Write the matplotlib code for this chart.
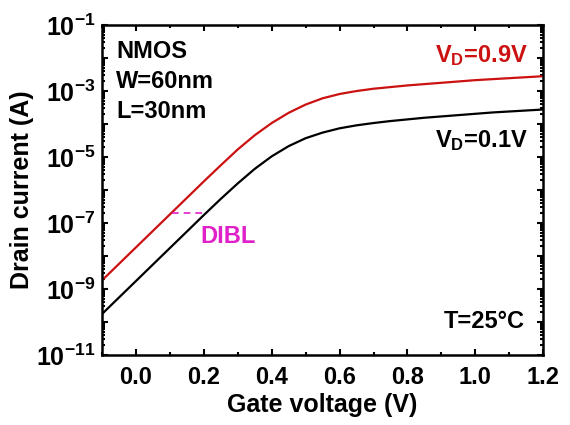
import numpy as np
import matplotlib
matplotlib.use('Agg')
import matplotlib.pyplot as plt
from matplotlib.ticker import LogLocator, FuncFormatter, MultipleLocator, NullFormatter

plt.rcParams['font.family'] = ['Liberation Sans', 'DejaVu Sans']
plt.rcParams['font.weight'] = 'bold'
plt.rcParams['mathtext.fontset'] = 'custom'
plt.rcParams['mathtext.rm'] = 'Liberation Sans:bold'
plt.rcParams['mathtext.bf'] = 'Liberation Sans:bold'
plt.rcParams['mathtext.it'] = 'Liberation Sans:bold'
plt.rcParams['axes.unicode_minus'] = False

# gate voltage (V)
vg = [-0.10, -0.05, 0.00, 0.05, 0.10, 0.15, 0.20, 0.25, 0.30, 0.35, 0.40,
      0.45, 0.50, 0.55, 0.60, 0.65, 0.70, 0.75, 0.80, 0.85, 0.90, 0.95,
      1.00, 1.05, 1.10, 1.15, 1.20]
# log10 of drain current
log_id_09 = [-8.74, -8.24, -7.74, -7.24, -6.74, -6.24, -5.74, -5.25, -4.77, -4.34, -3.97,
             -3.66, -3.41, -3.22, -3.09, -3.00, -2.93, -2.88, -2.83, -2.79, -2.75, -2.71,
             -2.67, -2.64, -2.61, -2.58, -2.55]
log_id_01 = [-9.76, -9.26, -8.76, -8.26, -7.76, -7.26, -6.76, -6.27, -5.80, -5.36, -4.98,
             -4.67, -4.43, -4.26, -4.13, -4.04, -3.97, -3.91, -3.86, -3.81, -3.77, -3.73,
             -3.69, -3.65, -3.62, -3.59, -3.56]

# DIBL marker: shift at constant current
dibl_v = [0.107, 0.204]
dibl_i = 2.0e-7

id_09 = np.power(10.0, log_id_09)
id_01 = np.power(10.0, log_id_01)

fig = plt.figure(figsize=(5.7, 4.25), dpi=100)
ax = fig.add_axes([0.179, 0.165, 0.774, 0.776])

ax.semilogy(vg, id_09, color='#cc1111', lw=1.6)
ax.semilogy(vg, id_01, color='black', lw=1.6)
ax.plot(dibl_v, [dibl_i, dibl_i], color='#e020c8', lw=1.2, ls=(0, (4, 3)))

ax.set_xlim(-0.1, 1.2)
ax.set_ylim(1e-11, 1e-1)

ax.xaxis.set_major_locator(MultipleLocator(0.2))
ax.xaxis.set_minor_locator(MultipleLocator(0.1))
ax.xaxis.set_major_formatter(FuncFormatter(lambda v, p: f'{v:.1f}' if abs(v) > 1e-9 else '0.0'))

ax.yaxis.set_major_locator(LogLocator(base=10, numticks=20))
ax.yaxis.set_minor_locator(LogLocator(base=10, subs=np.arange(2, 10), numticks=20))
ax.yaxis.set_minor_formatter(NullFormatter())


def ylab(v, p):
    e = int(round(np.log10(v)))
    if e % 2 == 0:
        return ''
    return r'$\mathbf{10^{%d}}$' % e


ax.yaxis.set_major_formatter(FuncFormatter(ylab))

ax.tick_params(which='both', direction='in', top=True, right=True, width=1.5)
ax.tick_params(which='major', length=4.5)
ax.tick_params(axis='x', which='major', pad=8, labelsize=17)
ax.tick_params(axis='y', which='major', pad=5, labelsize=18)
ax.tick_params(which='minor', length=2.5)
for s in ax.spines.values():
    s.set_linewidth(1.8)

ax.set_xlabel('Gate voltage (V)', fontsize=18, fontweight='bold', labelpad=3)
ax.set_ylabel('Drain current (A)', fontsize=18, fontweight='bold', labelpad=1)

ax.text(0.032, 0.900, 'NMOS', transform=ax.transAxes, fontsize=17, fontweight='bold', va='baseline')
ax.text(0.032, 0.809, 'W=60nm', transform=ax.transAxes, fontsize=17, fontweight='bold', va='baseline')
ax.text(0.032, 0.718, 'L=30nm', transform=ax.transAxes, fontsize=17, fontweight='bold', va='baseline')
ax.text(0.966, 0.888, r'V$_\mathbf{D}$=0.9V', transform=ax.transAxes, fontsize=17,
        fontweight='bold', color='#cc1111', ha='right', va='baseline')
ax.text(0.966, 0.630, r'V$_\mathbf{D}$=0.1V', transform=ax.transAxes, fontsize=17,
        fontweight='bold', color='black', ha='right', va='baseline')
ax.text(0.959, 0.082, 'T=25°C', transform=ax.transAxes, fontsize=17,
        fontweight='bold', ha='right', va='baseline')
ax.text(0.222, 0.339, 'DIBL', transform=ax.transAxes, fontsize=17,
        fontweight='bold', color='#e020c8', ha='left', va='baseline')

fig.savefig('out.png', dpi=100)
